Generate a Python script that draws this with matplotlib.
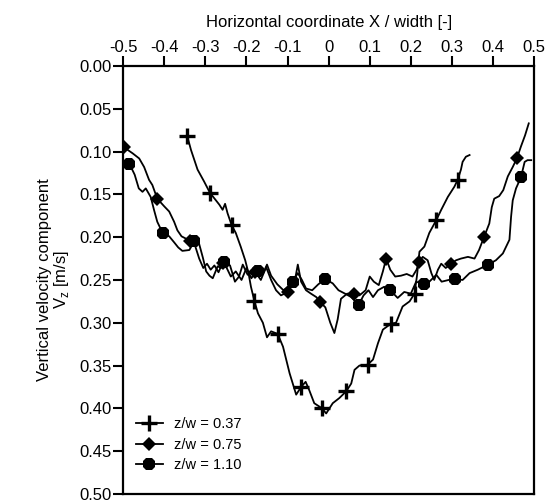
import numpy as np
import matplotlib
matplotlib.use("Agg")
import matplotlib.pyplot as plt

plt.rcParams['font.family'] = ['Liberation Sans', 'DejaVu Sans']

# z/w = 0.37  (plus markers)
x_037 = [-0.344, -0.335, -0.319, -0.303, -0.289, -0.266, -0.258, -0.252, -0.246, -0.236,
         -0.226, -0.214, -0.203, -0.195, -0.189, -0.181, -0.172, -0.160, -0.150, -0.140,
         -0.124, -0.111, -0.095, -0.079, -0.067, -0.056, -0.047, -0.035, -0.016, -0.006,
         0.010, 0.026, 0.043, 0.055, 0.063, 0.075, 0.095, 0.108, 0.120, 0.132,
         0.152, 0.164, 0.180, 0.197, 0.209, 0.215, 0.221, 0.233, 0.245, 0.262,
         0.274, 0.290, 0.306, 0.314, 0.322, 0.326, 0.334, 0.343]
v_037 = [0.082, 0.098, 0.121, 0.135, 0.148, 0.162, 0.168, 0.161, 0.172, 0.186,
         0.195, 0.211, 0.227, 0.242, 0.258, 0.274, 0.289, 0.300, 0.317, 0.310,
         0.313, 0.328, 0.359, 0.384, 0.375, 0.369, 0.379, 0.394, 0.400, 0.406,
         0.394, 0.388, 0.380, 0.371, 0.355, 0.350, 0.349, 0.343, 0.324, 0.308,
         0.301, 0.300, 0.281, 0.275, 0.266, 0.245, 0.217, 0.211, 0.195, 0.180,
         0.168, 0.153, 0.141, 0.133, 0.121, 0.112, 0.106, 0.104]
mk_037 = [0, 4, 9, 15, 20, 24, 28, 32, 36, 40, 44, 49, 53]

# z/w = 0.75  (diamond markers)
x_075 = [-0.498, -0.477, -0.461, -0.449, -0.437, -0.429, -0.417, -0.400, -0.388, -0.376,
         -0.368, -0.358, -0.338, -0.325, -0.315, -0.305, -0.296, -0.287, -0.278, -0.268,
         -0.258, -0.248, -0.238, -0.226, -0.212, -0.200, -0.188, -0.178, -0.165, -0.152,
         -0.140, -0.128, -0.116, -0.099, -0.089, -0.080, -0.075, -0.067, -0.055, -0.043,
         -0.030, -0.020, -0.008, 0.004, 0.014, 0.022, 0.030, 0.045, 0.062, 0.075,
         0.090, 0.100, 0.110, 0.122, 0.132, 0.140, 0.150, 0.162, 0.176, 0.190,
         0.204, 0.214, 0.220, 0.229, 0.241, 0.250, 0.257, 0.266, 0.274, 0.285,
         0.298, 0.310, 0.322, 0.339, 0.355, 0.366, 0.378, 0.391, 0.397, 0.403,
         0.415, 0.425, 0.436, 0.448, 0.458, 0.468, 0.478, 0.487]
v_075 = [0.095, 0.102, 0.108, 0.118, 0.133, 0.139, 0.155, 0.164, 0.170, 0.182,
         0.192, 0.199, 0.204, 0.210, 0.225, 0.236, 0.231, 0.238, 0.233, 0.241,
         0.230, 0.236, 0.246, 0.240, 0.250, 0.236, 0.248, 0.241, 0.250, 0.235,
         0.250, 0.262, 0.268, 0.264, 0.254, 0.245, 0.232, 0.252, 0.262, 0.266,
         0.270, 0.276, 0.282, 0.300, 0.312, 0.296, 0.272, 0.266, 0.266, 0.268,
         0.262, 0.246, 0.252, 0.256, 0.240, 0.225, 0.238, 0.246, 0.245, 0.243,
         0.246, 0.238, 0.229, 0.223, 0.227, 0.242, 0.250, 0.238, 0.231, 0.236,
         0.231, 0.227, 0.225, 0.223, 0.225, 0.215, 0.200, 0.184, 0.165, 0.155,
         0.152, 0.145, 0.129, 0.118, 0.108, 0.094, 0.081, 0.067]
mk_075 = [0, 6, 12, 20, 27, 33, 41, 48, 55, 62, 70, 76, 84]

# z/w = 1.10  (octagon markers)
x_110 = [-0.485, -0.472, -0.462, -0.453, -0.445, -0.433, -0.425, -0.417, -0.404, -0.388,
         -0.376, -0.366, -0.356, -0.339, -0.327, -0.315, -0.306, -0.298, -0.290, -0.282,
         -0.270, -0.262, -0.254, -0.240, -0.228, -0.218, -0.209, -0.197, -0.185, -0.172,
         -0.160, -0.150, -0.140, -0.125, -0.110, -0.098, -0.087, -0.075, -0.065, -0.055,
         -0.040, -0.025, -0.008, 0.010, 0.024, 0.040, 0.055, 0.073, 0.085, 0.097,
         0.108, 0.120, 0.135, 0.150, 0.168, 0.184, 0.200, 0.213, 0.231, 0.245,
         0.262, 0.275, 0.292, 0.308, 0.326, 0.343, 0.363, 0.388, 0.407, 0.424,
         0.440, 0.444, 0.448, 0.456, 0.468, 0.477, 0.484, 0.493]
v_110 = [0.114, 0.127, 0.143, 0.147, 0.143, 0.153, 0.168, 0.182, 0.195, 0.199,
         0.206, 0.212, 0.216, 0.215, 0.205, 0.208, 0.224, 0.240, 0.245, 0.248,
         0.234, 0.236, 0.229, 0.233, 0.252, 0.246, 0.232, 0.244, 0.238, 0.240,
         0.243, 0.232, 0.245, 0.255, 0.262, 0.258, 0.252, 0.242, 0.250, 0.260,
         0.262, 0.255, 0.249, 0.254, 0.262, 0.266, 0.270, 0.279, 0.268, 0.262,
         0.270, 0.262, 0.258, 0.262, 0.271, 0.264, 0.266, 0.252, 0.255, 0.252,
         0.244, 0.252, 0.250, 0.249, 0.250, 0.242, 0.238, 0.232, 0.227, 0.219,
         0.203, 0.176, 0.157, 0.143, 0.130, 0.112, 0.110, 0.110]
mk_110 = [0, 8, 14, 22, 29, 36, 42, 47, 53, 58, 63, 67, 74]

x_ticks = [-0.5, -0.4, -0.3, -0.2, -0.1, 0, 0.1, 0.2, 0.3, 0.4, 0.5]
x_ticklabels = ['-0.5', '-0.4', '-0.3', '-0.2', '-0.1', '0', '0.1', '0.2', '0.3', '0.4', '0.5']
y_ticks = [0.00, 0.05, 0.10, 0.15, 0.20, 0.25, 0.30, 0.35, 0.40, 0.45, 0.50]

fig = plt.figure(figsize=(5.45, 5.04), dpi=100)
ax = fig.add_axes([0.226, 0.020, 0.754, 0.849])

ax.plot(x_037, v_037, color='black', lw=1.3, marker='+', ms=11, mew=2.4,
        markevery=mk_037, label='z/w = 0.37')
ax.plot(x_075, v_075, color='black', lw=1.3, marker='D', ms=7.5, mew=0,
        markevery=mk_075, label='z/w = 0.75')
ax.plot(x_110, v_110, color='black', lw=1.3, marker='8', ms=9.5, mew=0,
        markevery=mk_110, label='z/w = 1.10')

ax.set_xlim(-0.5, 0.5)
ax.set_ylim(0.5, 0.0)
ax.xaxis.tick_top()
ax.xaxis.set_label_position('top')
ax.set_xticks(x_ticks)
ax.set_xticklabels(x_ticklabels)
ax.set_yticks(y_ticks)
ax.set_yticklabels([f'{v:.2f}' for v in y_ticks])
ax.tick_params(axis='both', direction='out', length=7, width=1.5, labelsize=12, pad=1)
ax.tick_params(axis='x', top=True, bottom=False)
ax.tick_params(axis='y', left=True, right=False)
for s in ax.spines.values():
    s.set_linewidth(1.6)

ax.set_xlabel('Horizontal coordinate X / width [-]', fontsize=12, labelpad=9)
ax.set_ylabel('Vertical velocity component\nV$_\\mathregular{z}$ [m/s]', fontsize=12,
              labelpad=6, linespacing=1.0)

ax.legend(loc='lower left', bbox_to_anchor=(0.0, 0.02), frameon=False, fontsize=10.5,
          handlelength=1.8, handletextpad=0.8, labelspacing=0.45)

fig.savefig('out.png', dpi=100)
